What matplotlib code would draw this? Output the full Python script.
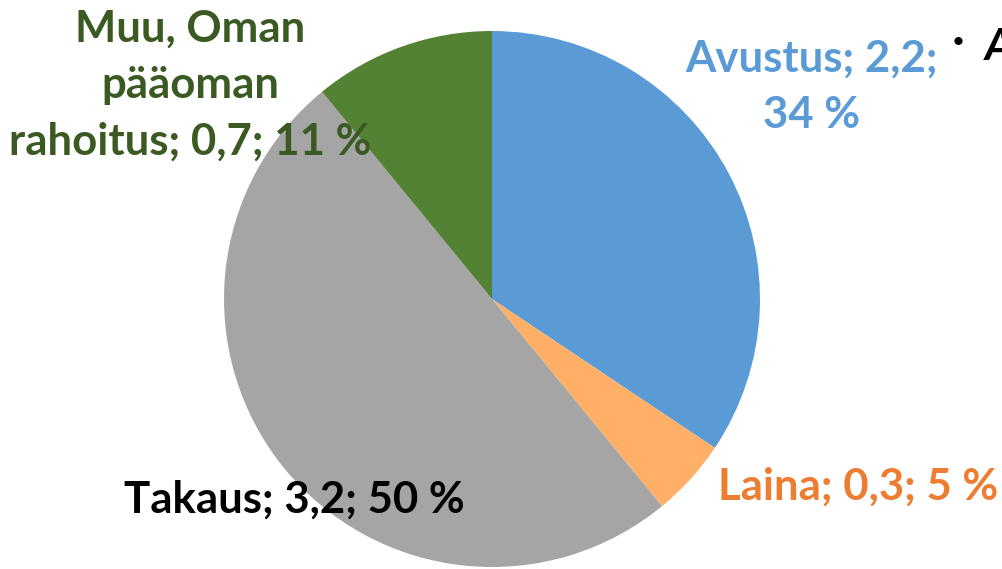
import matplotlib.pyplot as plt

# data
categories = ['Avustus', 'Laina', 'Takaus', 'Muu, Oman pääoman rahoitus']
values = [2.2, 0.3, 3.2, 0.7]
percents = [34, 5, 50, 11]
colors = ['#5B9BD5', '#FFB066', '#A5A5A5', '#548235']
label_colors = ['#5B9BD5', '#ED7D31', '#000000', '#3B5A23']

plt.rcParams['font.family'] = ['Lato', 'DejaVu Sans']

fig = plt.figure(figsize=(10.02, 5.69), dpi=100)
ax = fig.add_axes([0, 0, 1, 1])

ax.pie(values, colors=colors, startangle=90, counterclock=False,
       center=(492, 270), radius=268, frame=True,
       wedgeprops=dict(linewidth=0))
ax.set_xlim(0, 1002)
ax.set_ylim(0, 569)
ax.set_aspect('equal')
ax.axis('off')

def fmt(v):
    return str(v).replace('.', ',')

# étiquettes
textes = [
    '%s; %s;\n%d %%' % (categories[0], fmt(values[0]), percents[0]),
    '%s; %s; %d %%' % (categories[1], fmt(values[1]), percents[1]),
    '%s; %s; %d %%' % (categories[2], fmt(values[2]), percents[2]),
    'Muu, Oman\npääoman\nrahoitus; %s; %d %%' % (fmt(values[3]), percents[3]),
]
positions = [(812, 482), (858, 82), (294, 69), (190, 484)]
for t, (x, y), c in zip(textes, positions, label_colors):
    ax.text(x, y, t, color=c, fontsize=31.5, fontweight='bold',
            ha='center', va='center', linespacing=1.5)

ax.text(952, 527, '•', fontsize=16, color='black', ha='left', va='center')
ax.text(985, 522, 'A', fontsize=31.5, fontweight='bold', fontstyle='italic',
        color='black', ha='left', va='center')

fig.savefig('out.png', dpi=100)
